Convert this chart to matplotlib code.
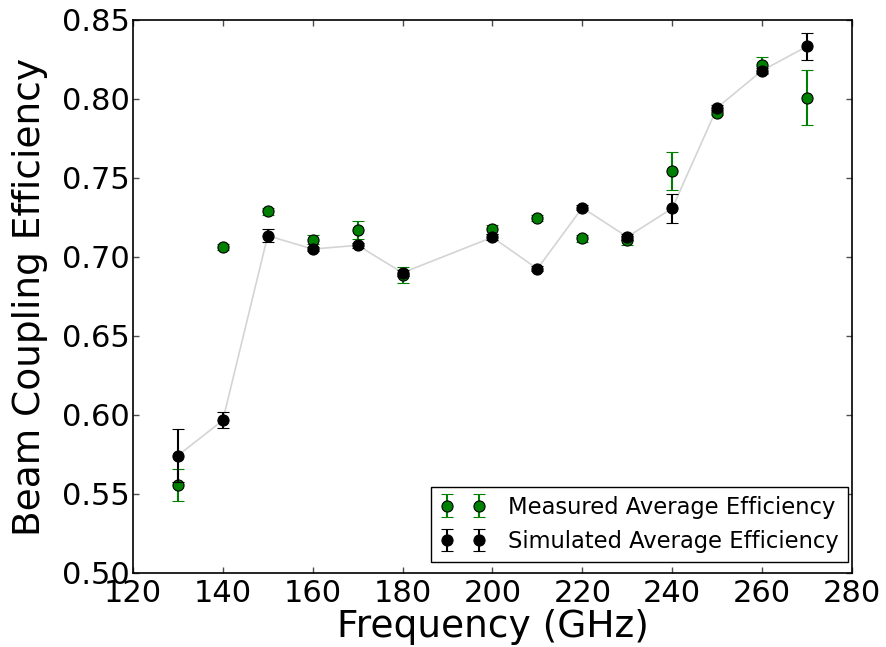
import numpy as np
import matplotlib.pyplot as plt

# frequencies (GHz)
freq = [130, 140, 150, 160, 170, 180, 200, 210, 220, 230, 240, 250, 260, 270]

# measured average efficiency + error
meas = [0.5557, 0.7065, 0.7288, 0.7110, 0.7170, 0.6886, 0.7175, 0.7245, 0.7118, 0.7105, 0.7546, 0.7912, 0.8212, 0.8008]
meas_err = [0.010, 0.002, 0.002, 0.003, 0.0058, 0.0048, 0.003, 0.0018, 0.002, 0.003, 0.012, 0.0015, 0.0055, 0.0175]

# simulated average efficiency + error
sim = [0.5743, 0.5966, 0.7135, 0.7050, 0.7074, 0.6900, 0.7125, 0.6925, 0.7312, 0.7127, 0.7308, 0.7945, 0.8180, 0.8333]
sim_err = [0.017, 0.005, 0.004, 0.0015, 0.0015, 0.002, 0.002, 0.0015, 0.0015, 0.002, 0.009, 0.0015, 0.0015, 0.0087]

plt.rcParams['xtick.direction'] = 'in'
plt.rcParams['ytick.direction'] = 'in'
plt.rcParams['xtick.top'] = True
plt.rcParams['ytick.right'] = True

fig = plt.figure(figsize=(8.86, 6.47), dpi=100)
ax = fig.add_axes([0.150, 0.1144, 0.8116, 0.8547])

# line through the simulated points
ax.plot(freq, sim, color='0.83', lw=1.2, zorder=1)

ax.errorbar(freq, meas, yerr=meas_err, fmt='o', color='green', mec='black', mew=0.8,
            ms=8, ecolor='green', elinewidth=1.5, capsize=4, capthick=1.5,
            label='Measured Average Efficiency', zorder=2)
ax.errorbar(freq, sim, yerr=sim_err, fmt='o', color='black', mec='black', mew=0.8,
            ms=8, ecolor='black', elinewidth=1.5, capsize=4, capthick=1.5,
            label='Simulated Average Efficiency', zorder=3)

ax.set_xlim(120, 280)
ax.set_ylim(0.50, 0.85)
ax.set_xticks(np.arange(120, 281, 20))
ax.set_yticks(np.arange(0.50, 0.851, 0.05))
ax.tick_params(labelsize=22, length=4.5, width=1, color='0.3')
ax.tick_params(axis='y', pad=2)
ax.tick_params(axis='x', pad=4)
ax.set_xlabel('Frequency (GHz)', fontsize=27, labelpad=1)
ax.set_ylabel('Beam Coupling Efficiency', fontsize=27, labelpad=10)
for s in ax.spines.values():
    s.set_linewidth(1.2)

leg = ax.legend(loc='lower right', bbox_to_anchor=(0.9944, 0.0199), numpoints=2,
                fontsize=16.3, fancybox=False, edgecolor='black', framealpha=1,
                borderaxespad=0, handletextpad=1.0)
leg.get_frame().set_linewidth(1.0)

fig.savefig('out.png', dpi=100)
